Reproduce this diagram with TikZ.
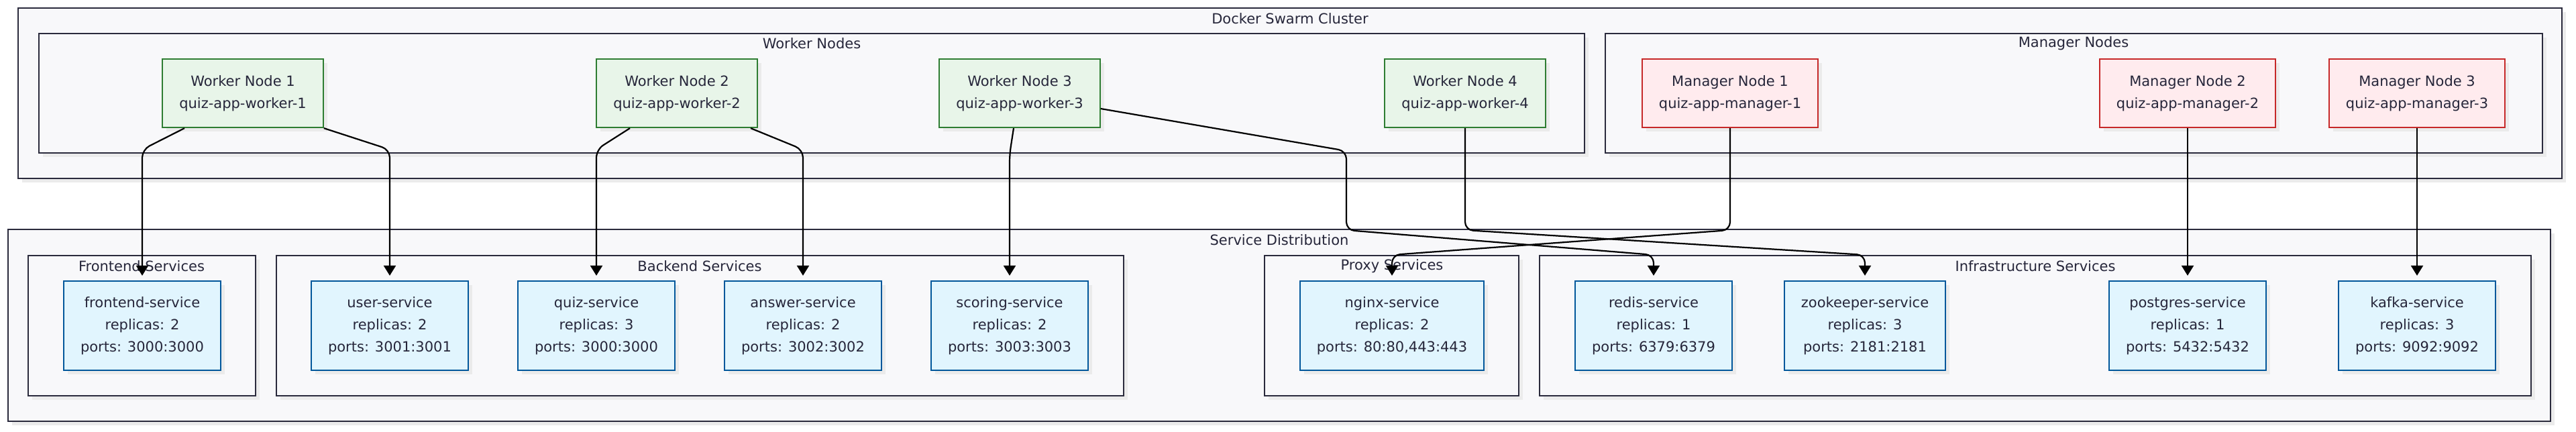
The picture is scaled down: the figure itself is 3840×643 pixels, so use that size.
\documentclass[tikz,border=0pt]{standalone}
\usepackage{fontspec}
\setmainfont{DejaVu Sans}
\usetikzlibrary{arrows.meta,shadows}
\definecolor{txt}{HTML}{26263A}
\definecolor{clfill}{HTML}{F8F8FA}
\definecolor{clline}{HTML}{2A2A3C}
\definecolor{wkfill}{HTML}{E8F5E9}
\definecolor{wkline}{HTML}{2E7D32}
\definecolor{mgfill}{HTML}{FFEBEE}
\definecolor{mgline}{HTML}{C62828}
\definecolor{svfill}{HTML}{E1F5FE}
\definecolor{svline}{HTML}{01579B}

\begin{document}
\begin{tikzpicture}[x=0.5pt,y=-0.5pt,
    every node/.style={font=\fontsize{10.5}{16.5}\selectfont,text=txt},
    shade/.style={drop shadow={shadow xshift=3pt,shadow yshift=-3pt,fill=black!8,opacity=1}},
    cluster/.style={shade,draw=clline,fill=clfill,line width=1.3pt},
    box/.style={shade,draw,line width=1.1pt,align=center,inner xsep=12.5pt},
    worker/.style={box,draw=wkline,fill=wkfill,minimum height=51pt},
    manager/.style={box,draw=mgline,fill=mgfill,minimum height=51pt},
    service/.style={box,draw=svline,fill=svfill,minimum height=66.5pt,minimum width=115.5pt},
    flow/.style={line width=1.1pt,rounded corners=6pt,shorten >=3.5pt,-{Triangle[length=7.5pt,width=9pt]}}]
    \useasboundingbox (0,0) rectangle (3840,643);
    % swarm
    \draw[cluster] (27,12) rectangle (3819,266);
    \draw[cluster] (58,50) rectangle (2362,228);
    \draw[cluster] (2393,50) rectangle (3790,228);
    \node (swarmlbl) at (1923,28) {Docker Swarm Cluster};
    \node (workerlbl) at (1210,65) {Worker Nodes};
    \node (managerlbl) at (3091,65) {Manager Nodes};
    \foreach \i/\x in {1/362,2/1009,3/1520,4/2184}{
        \node[worker] (w\i) at (\x,139) {Worker Node \i\\quiz-app-worker-\i};
    }
    \foreach \i/\x in {1/2579,2/3261,3/3603}{
        \node[manager] (m\i) at (\x,139) {Manager Node \i\\quiz-app-manager-\i};
    }
    % services
    \draw[cluster] (12,342) rectangle (3802,628);
    \draw[cluster] (42,381) rectangle (381,590);
    \draw[cluster] (412,381) rectangle (1675,590);
    \draw[cluster] (1885,381) rectangle (2264,590);
    \draw[cluster] (2295,381) rectangle (3773,590);
    \node (distlbl) at (1907,358) {Service Distribution};
    \node (frontlbl) at (211,397) {Frontend Services};
    \node (backlbl) at (1043,397) {Backend Services};
    \node (proxylbl) at (2075,397) {Proxy Services};
    \node (infralbl) at (3034,397) {Infrastructure Services};
    \foreach \n/\x/\r/\p in {frontend/212/2/3000:3000,user/581/2/3001:3001,quiz/889/3/3000:3000,
        answer/1197/2/3002:3002,scoring/1505/2/3003:3003,nginx/2075/2/{80:80,443:443},
        redis/2465/1/6379:6379,zookeeper/2780/3/2181:2181,postgres/3261/1/5432:5432,kafka/3603/3/9092:9092}{
        \node[service] (\n) at (\x,485.5) {\n-service\\replicas: \r\\ports: \p};
    }
    % placement
    \draw[flow] ([xshift=-43.5pt]w1.south) -- (frontend.north |- 0,223) -- (frontend.north);
    \draw[flow] (w1.south east) -- (user.north |- 0,223) -- (user.north);
    \draw[flow] ([xshift=-35pt]w2.south) -- (quiz.north |- 0,223) -- (quiz.north);
    \draw[flow] ([xshift=55pt]w2.south) -- (answer.north |- 0,223) -- (answer.north);
    \draw[flow] ([xshift=-4.5pt]w3.south) -- (scoring.north |- 0,230) -- (scoring.north);
    \draw[flow] ([yshift=-11.5pt]w3.east) -- (2007,225) -- (2007,343) -- (redis.north |- 0,380) -- (redis.north);
    \draw[flow] (w4.south) -- (w4.south |- 0,343) -- (zookeeper.north |- 0,380) -- (zookeeper.north);
    \draw[flow] (m1.south) -- (m1.south |- 0,343) -- (nginx.north |- 0,380) -- (nginx.north);
    \draw[flow] (m2.south) -- (postgres.north);
    \draw[flow] (m3.south) -- (kafka.north);
\end{tikzpicture}
\end{document}
